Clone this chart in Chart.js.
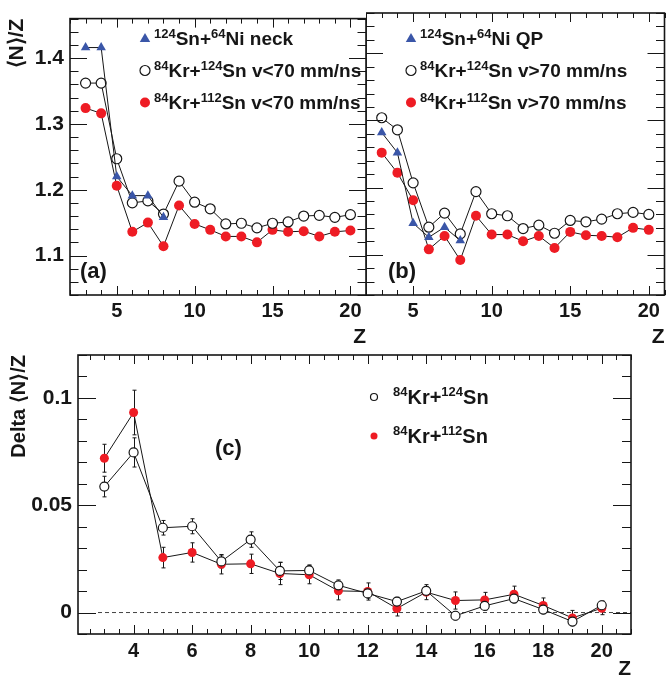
<!DOCTYPE html>
<html><head><meta charset="utf-8">
<script src="https://cdn.jsdelivr.net/npm/chart.js@4.4.1/dist/chart.umd.min.js"></script>
<style>
html,body{margin:0;padding:0;background:#fff;overflow:hidden;width:666px;height:677px;}
canvas{position:absolute;}
#ca{left:0;top:0;width:370px;height:350px;}
#cb{left:366px;top:0;width:300px;height:350px;}
#cc{left:0;top:320px;width:666px;height:362px;}
</style></head><body>
<canvas id="ca" width="370" height="350"></canvas>
<canvas id="cb" width="300" height="350"></canvas>
<canvas id="cc" width="666" height="362"></canvas>
<script>
// ---------- data ----------
const Z = [3,4,5,6,7,8,9,10,11,12,13,14,15,16,17,18,19,20];
const zSn = [3,4,5,6,7,8];
// panel (a)
const neckA  = [1.416,1.416,1.220,1.191,1.191,1.158];
const kr124A = [1.362,1.362,1.247,1.180,1.183,1.163,1.213,1.181,1.171,1.148,1.149,1.142,1.149,1.151,1.160,1.161,1.158,1.162];
const kr112A = [1.324,1.316,1.206,1.136,1.150,1.114,1.176,1.148,1.139,1.129,1.129,1.120,1.139,1.136,1.137,1.129,1.136,1.138];
// panel (b)
const qpB    = [1.282,1.252,1.147,1.126,1.141,1.121];
const kr124B = [1.304,1.286,1.207,1.141,1.162,1.131,1.194,1.161,1.158,1.139,1.144,1.132,1.151,1.149,1.153,1.161,1.163,1.160];
const kr112B = [1.252,1.222,1.181,1.108,1.128,1.092,1.158,1.130,1.130,1.120,1.128,1.110,1.134,1.129,1.128,1.126,1.140,1.137];
// panel (c)
const d124 = [0.0587,0.0746,0.0395,0.0402,0.0238,0.0340,0.0194,0.0196,0.0127,0.0089,0.0051,0.0101,-0.0015,0.0031,0.0065,0.0014,-0.0042,0.0034];
const e124 = [0.0048,0.0068,0.0034,0.0035,0.0030,0.0036,0.0040,0.0026,0.0025,0.0022,0.0020,0.0020,0.0020,0.0020,0.0020,0.0020,0.0020,0.0020];
const d112 = [0.0719,0.0932,0.0256,0.0280,0.0225,0.0227,0.0182,0.0176,0.0101,0.0098,0.0019,0.0095,0.0056,0.0059,0.0085,0.0033,-0.0025,0.0020];
const e112 = [0.0065,0.0104,0.0048,0.0045,0.0045,0.0045,0.0052,0.0042,0.0042,0.0040,0.0035,0.0035,0.0040,0.0035,0.0038,0.0035,0.0035,0.0030];
// tick labels
const xTicksTop = [5,10,15,20];
const yTicksTop = [1.1,1.2,1.3,1.4];
const xTicksC = [4,6,8,10,12,14,16,18,20];
const yTicksC = [0,0.05,0.1];
// legend texts (sup = superscript)
const legA = [
  [{t:'124',sup:1},{t:'Sn+'},{t:'64',sup:1},{t:'Ni neck'}],
  [{t:'84',sup:1},{t:'Kr+'},{t:'124',sup:1},{t:'Sn v<70 mm/ns'}],
  [{t:'84',sup:1},{t:'Kr+'},{t:'112',sup:1},{t:'Sn v<70 mm/ns'}]
];
const legB = [
  [{t:'124',sup:1},{t:'Sn+'},{t:'64',sup:1},{t:'Ni QP'}],
  [{t:'84',sup:1},{t:'Kr+'},{t:'124',sup:1},{t:'Sn v>70 mm/ns'}],
  [{t:'84',sup:1},{t:'Kr+'},{t:'112',sup:1},{t:'Sn v>70 mm/ns'}]
];
const legC = [
  [{t:'84',sup:1},{t:'Kr+'},{t:'124',sup:1},{t:'Sn'}],
  [{t:'84',sup:1},{t:'Kr+'},{t:'112',sup:1},{t:'Sn'}]
];

// ---------- style ----------
const FONT = '"Liberation Sans", Arial, Helvetica, sans-serif';
const INK = '#161616';
const RED = '#ee1c24';
const BLUE = '#3a56a8';
const zip = (xs, ys) => xs.map((x,i)=>({x, y: ys[i]}));

function drawRich(ctx, segs, x, yc, size) {
  const base = yc + size*0.36;
  ctx.fillStyle = INK; ctx.textBaseline = 'alphabetic'; ctx.textAlign = 'left';
  for (const s of segs) {
    const fs = s.sup ? Math.round(size*0.66) : size;
    ctx.font = `bold ${fs}px ${FONT}`;
    ctx.fillText(s.t, x, s.sup ? base - size*0.40 : base);
    x += ctx.measureText(s.t).width;
  }
}
function drawMarker(ctx, kind, x, y, r) {
  ctx.save();
  ctx.beginPath();
  if (kind === 'triangle') {
    ctx.moveTo(x, y - r); ctx.lineTo(x + r*0.95, y + r*0.65); ctx.lineTo(x - r*0.95, y + r*0.65); ctx.closePath();
    ctx.fillStyle = BLUE; ctx.fill();
  } else if (kind === 'open') {
    ctx.arc(x, y, r, 0, Math.PI*2); ctx.fillStyle = '#fff'; ctx.fill();
    ctx.lineWidth = 1.2; ctx.strokeStyle = INK; ctx.stroke();
  } else {
    ctx.arc(x, y, r, 0, Math.PI*2); ctx.fillStyle = RED; ctx.fill();
  }
  ctx.restore();
}

const rootFrame = {
  id: 'rootFrame',
  beforeDatasetsDraw(chart, args, o) {
    const {ctx, chartArea: a, scales: {x, y}} = chart;
    ctx.save();
    if (o.zeroLine) {
      const py = y.getPixelForValue(0);
      ctx.setLineDash([4,3]); ctx.strokeStyle = '#444'; ctx.lineWidth = 1;
      ctx.beginPath(); ctx.moveTo(a.left + 20, py); ctx.lineTo(a.right, py); ctx.stroke();
      ctx.setLineDash([]);
    }
    chart.data.datasets.forEach((ds, i) => {
      if (!ds.errors) return;
      const meta = chart.getDatasetMeta(i);
      ctx.strokeStyle = INK; ctx.lineWidth = 1;
      meta.data.forEach((pt, j) => {
        const v = ds.data[j].y, e = ds.errors[j];
        const y1 = y.getPixelForValue(v + e), y2 = y.getPixelForValue(v - e);
        const px = Math.round(pt.x) + 0.5;
        ctx.beginPath();
        ctx.moveTo(px, y1); ctx.lineTo(px, y2);
        ctx.moveTo(px - 2, y1); ctx.lineTo(px + 2, y1);
        ctx.moveTo(px - 2, y2); ctx.lineTo(px + 2, y2);
        ctx.stroke();
      });
    });
    ctx.restore();
  },
  afterDraw(chart, args, o) {
    const {ctx, chartArea: a, scales: {x, y}} = chart;
    ctx.save();
    ctx.strokeStyle = INK; ctx.lineWidth = 1;
    const isMajor = (list, v) => list.some(m => Math.abs(m - v) < 1e-7);
    ctx.beginPath();
    for (let k = 0; ; k++) {
      const v = o.xStart + k*o.xStep;
      if (v > x.max + 1e-9) break;
      if (v < x.min - 1e-9) continue;
      const px = Math.round(x.getPixelForValue(v)) + 0.5;
      const L = isMajor(o.xMajor, v) ? o.xMajLen : o.xMinLen;
      ctx.moveTo(px, a.bottom); ctx.lineTo(px, a.bottom - L);
      ctx.moveTo(px, a.top); ctx.lineTo(px, a.top + L);
    }
    for (let k = 0; ; k++) {
      const v = o.yStart + k*o.yStep;
      if (v > y.max + 1e-9) break;
      if (v < y.min - 1e-9) continue;
      const py = Math.round(y.getPixelForValue(v)) + 0.5;
      const L = isMajor(o.yMajor, v) ? o.yMajLen : o.yMinLen;
      ctx.moveTo(a.left, py); ctx.lineTo(a.left + L, py);
      ctx.moveTo(a.right, py); ctx.lineTo(a.right - L, py);
    }
    ctx.stroke();
    ctx.lineWidth = 1.6;
    ctx.strokeRect(a.left, a.top, a.right - a.left, a.bottom - a.top);
    ctx.restore();
  }
};

const richLegend = {
  id: 'richLegend',
  afterDraw(chart, args, o) {
    const ctx = chart.ctx;
    ctx.save();
    o.items.forEach((it, i) => {
      const yc = o.y + i*o.dy;
      drawMarker(ctx, it.marker, o.mx, yc, it.marker === 'triangle' ? o.r + 0.5 : o.r);
      drawRich(ctx, it.segs, o.tx, yc, o.size);
    });
    if (o.panel) {
      ctx.font = `bold ${o.panel.size}px ${FONT}`; ctx.fillStyle = INK;
      ctx.textAlign = 'left'; ctx.textBaseline = 'alphabetic';
      ctx.fillText(o.panel.text, o.panel.x, o.panel.y);
    }
    ctx.restore();
  }
};

function lineDs(label, data, kind, r) {
  const base = {label, data, borderColor: INK, borderWidth: 1, tension: 0, fill: false, pointHoverRadius: r};
  if (kind === 'triangle') return {...base, pointStyle: 'triangle', pointRadius: r + 0.5, pointBackgroundColor: BLUE, pointBorderColor: BLUE, pointBorderWidth: 0};
  if (kind === 'open') return {...base, pointStyle: 'circle', pointRadius: r, pointBackgroundColor: '#fff', pointBorderColor: INK, pointBorderWidth: 1.2};
  return {...base, pointStyle: 'circle', pointRadius: r, pointBackgroundColor: RED, pointBorderColor: RED, pointBorderWidth: 0};
}

function topScales(showY) {
  return {
    x: {
      type: 'linear', min: 2, max: 21,
      afterBuildTicks: s => { s.ticks = xTicksTop.map(v => ({value: v})); },
      afterFit: s => { s.height = 55; },
      grid: {display: false, drawTicks: false}, border: {display: false},
      ticks: {padding: 4.5, autoSkip: false, maxRotation: 0, color: INK, font: {family: FONT, size: 20, weight: 'bold'}},
      title: {display: true, text: 'Z', align: 'end', padding: {top: 0, bottom: 0}, color: INK, font: {family: FONT, size: 21, weight: 'bold'}}
    },
    y: {
      type: 'linear', min: 1.04, max: 1.46, display: showY,
      afterBuildTicks: s => { s.ticks = yTicksTop.map(v => ({value: v})); },
      afterFit: s => { s.width = showY ? 70 : 0; },
      grid: {display: false, drawTicks: false}, border: {display: false},
      ticks: {padding: 6, color: INK, callback: v => Number(v).toFixed(1), font: {family: FONT, size: 21, weight: 'bold'}},
      title: {display: showY, text: '⟨N⟩/Z', align: 'end', padding: {top: 5, bottom: 0}, color: INK, font: {family: FONT, size: 21, weight: 'bold'}}
    }
  };
}
const topFrame = {xStart: 2, xStep: 1, xMajor: xTicksTop, xMajLen: 9, xMinLen: 5,
                  yStart: 1.04, yStep: 0.02, yMajor: yTicksTop, yMajLen: 17, yMinLen: 8.5};

new Chart(document.getElementById('ca'), {
  type: 'line',
  data: {datasets: [
    lineDs('124Sn+64Ni neck', zip(zSn, neckA), 'triangle', 5),
    lineDs('84Kr+124Sn v<70 mm/ns', zip(Z, kr124A), 'open', 5),
    lineDs('84Kr+112Sn v<70 mm/ns', zip(Z, kr112A), 'filled', 5)
  ]},
  options: {
    responsive: false, animation: false, events: [],
    layout: {autoPadding: false, padding: {top: 13, right: 4, left: 0, bottom: 0}},
    plugins: {
      legend: {display: false}, tooltip: {enabled: false},
      rootFrame: topFrame,
      richLegend: {mx: 145, tx: 154, y: 38.5, dy: 32, r: 5, size: 19,
        items: [{marker: 'triangle', segs: legA[0]}, {marker: 'open', segs: legA[1]}, {marker: 'filled', segs: legA[2]}],
        panel: {text: '(a)', x: 80, y: 278, size: 22}}
    },
    scales: topScales(true)
  },
  plugins: [rootFrame, richLegend]
});

new Chart(document.getElementById('cb'), {
  type: 'line',
  data: {datasets: [
    lineDs('124Sn+64Ni QP', zip(zSn, qpB), 'triangle', 5),
    lineDs('84Kr+124Sn v>70 mm/ns', zip(Z, kr124B), 'open', 5),
    lineDs('84Kr+112Sn v>70 mm/ns', zip(Z, kr112B), 'filled', 5)
  ]},
  options: {
    responsive: false, animation: false, events: [],
    layout: {autoPadding: false, padding: {top: 13, right: 1.5, left: 0, bottom: 0}},
    plugins: {
      legend: {display: false}, tooltip: {enabled: false},
      rootFrame: topFrame,
      richLegend: {mx: 45, tx: 54, y: 38.5, dy: 32, r: 5, size: 19,
        items: [{marker: 'triangle', segs: legB[0]}, {marker: 'open', segs: legB[1]}, {marker: 'filled', segs: legB[2]}],
        panel: {text: '(b)', x: 22, y: 278, size: 22}}
    },
    scales: topScales(false)
  },
  plugins: [rootFrame, richLegend]
});

const ds124 = lineDs('84Kr+124Sn', zip(Z, d124), 'open', 4.5); ds124.errors = e124;
const ds112 = lineDs('84Kr+112Sn', zip(Z, d112), 'filled', 4.5); ds112.errors = e112;
new Chart(document.getElementById('cc'), {
  type: 'line',
  data: {datasets: [ds124, ds112]},
  options: {
    responsive: false, animation: false, events: [],
    layout: {autoPadding: false, padding: {top: 35, right: 35, left: 0, bottom: 0}},
    plugins: {
      legend: {display: false}, tooltip: {enabled: false},
      rootFrame: {xStart: 2.5, xStep: 0.5, xMajor: xTicksC, xMajLen: 9, xMinLen: 5,
                  yStart: -0.01, yStep: 0.01, yMajor: yTicksC, yMajLen: 18, yMinLen: 9, zeroLine: true},
      richLegend: {mx: 374, tx: 393, y: 77, dy: 39, r: 3.5, size: 20,
        items: [{marker: 'open', segs: legC[0]}, {marker: 'filled', segs: legC[1]}],
        panel: {text: '(c)', x: 215, y: 135, size: 22}}
    },
    scales: {
      x: {
        type: 'linear', min: 2.1, max: 21,
        afterBuildTicks: s => { s.ticks = xTicksC.map(v => ({value: v})); },
        afterFit: s => { s.height = 48; },
        grid: {display: false, drawTicks: false}, border: {display: false},
        ticks: {padding: 5, autoSkip: false, maxRotation: 0, color: INK, font: {family: FONT, size: 20, weight: 'bold'}},
        title: {display: true, text: 'Z', align: 'end', padding: {top: 0, bottom: 0}, color: INK, font: {family: FONT, size: 21, weight: 'bold'}}
      },
      y: {
        type: 'linear', min: -0.01, max: 0.12,
        afterBuildTicks: s => { s.ticks = yTicksC.map(v => ({value: v})); },
        afterFit: s => { s.width = 78; },
        grid: {display: false, drawTicks: false}, border: {display: false},
        ticks: {padding: 6, color: INK, callback: v => String(Number(v)), font: {family: FONT, size: 21, weight: 'bold'}},
        title: {display: true, text: 'Delta ⟨N⟩/Z', align: 'end', padding: {top: 7, bottom: 0}, color: INK, font: {family: FONT, size: 20, weight: 'bold'}}
      }
    }
  },
  plugins: [rootFrame, richLegend]
});
</script>
</body></html>
